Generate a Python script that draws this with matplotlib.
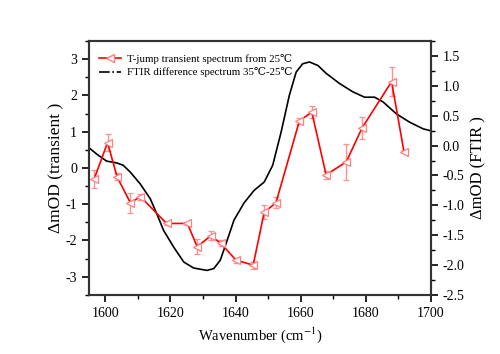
import numpy as np
import matplotlib
matplotlib.use('Agg')
import matplotlib.pyplot as plt
from matplotlib.lines import Line2D
from matplotlib.ticker import MultipleLocator

plt.rcParams['font.family'] = ['Liberation Serif', 'DejaVu Serif']
plt.rcParams['mathtext.fontset'] = 'stix'
plt.rcParams['axes.unicode_minus'] = False

# T-jump transient spectrum (left axis)
tj_x   = [1596.6, 1600.7, 1603.6, 1607.7, 1610.8, 1618.8, 1625.2, 1628.2, 1632.4, 1635.5,
          1640.1, 1645.4, 1648.8, 1652.4, 1659.6, 1663.4, 1667.8, 1674.0, 1678.8, 1687.9, 1691.7]
tj_y   = [-0.30, 0.70, -0.24, -0.96, -0.79, -1.53, -1.53, -2.17, -1.87, -2.08,
          -2.54, -2.68, -1.22, -0.96, 1.30, 1.54, -0.19, 0.17, 1.10, 2.38, 0.45]
tj_err = [0.25, 0.23, 0.10, 0.28, 0.08, 0.05, 0.05, 0.20, 0.12, 0.08,
          0.07, 0.10, 0.20, 0.15, 0.08, 0.17, 0.12, 0.50, 0.30, 0.40, 0.05]

# FTIR difference spectrum (right axis)
ft_x = [1594.2, 1597.3, 1600.4, 1603.5, 1605.5, 1607.6, 1610.7, 1613.8, 1615.8, 1617.9,
        1621.0, 1624.1, 1627.1, 1631.2, 1633.3, 1635.3, 1637.4, 1639.5, 1642.6, 1645.7,
        1648.8, 1651.4, 1654.0, 1656.5, 1658.6, 1660.6, 1662.7, 1665.3, 1667.8, 1671.9,
        1676.0, 1679.6, 1682.7, 1685.3, 1689.4, 1693.5, 1697.6, 1700.5]
ft_y = [0.00, -0.14, -0.26, -0.29, -0.33, -0.44, -0.64, -0.89, -1.14, -1.42,
        -1.70, -1.95, -2.05, -2.09, -2.06, -1.92, -1.59, -1.25, -0.96, -0.75,
        -0.61, -0.33, 0.23, 0.84, 1.23, 1.37, 1.40, 1.34, 1.21, 1.04,
        0.90, 0.81, 0.81, 0.73, 0.53, 0.39, 0.28, 0.24]

fig = plt.figure(figsize=(5, 3.54), dpi=100)
ax = fig.add_axes([0.178, 0.167, 0.684, 0.717])
ax2 = ax.twinx()

ax.errorbar(tj_x, tj_y, yerr=tj_err, color='red', lw=1.2, marker='<', ms=5.5,
            mfc='white', mec='#ff8080', mew=0.9, ecolor='#ff9090', elinewidth=1,
            capsize=2.5, capthick=1, zorder=3)
ax2.plot(ft_x, ft_y, color='black', lw=1.2)

ax.set_zorder(ax2.get_zorder() + 1)
ax.patch.set_visible(False)

ax.set_xlim(1595, 1700)
ax.set_ylim(-3.5, 3.5)
ax2.set_ylim(-2.5, 1.75)

ax.xaxis.set_major_locator(MultipleLocator(20))
ax.xaxis.set_minor_locator(MultipleLocator(10))
ax.yaxis.set_major_locator(MultipleLocator(1))
ax.yaxis.set_minor_locator(MultipleLocator(0.5))
ax2.yaxis.set_major_locator(MultipleLocator(0.5))
ax2.yaxis.set_minor_locator(MultipleLocator(0.25))
ax2.yaxis.set_major_formatter(plt.FuncFormatter(lambda v, p: f'{v:.1f}'))

for a in (ax, ax2):
    a.tick_params(which='major', direction='out', length=5, width=1.2, labelsize=10)
    a.tick_params(which='minor', direction='out', length=3, width=1)
    for s in a.spines.values():
        s.set_linewidth(1.5)
        s.set_color('#333333')

ax.set_xlabel('Wavenumber (cm$^{-1}$)', fontsize=10.5)
ax.set_ylabel('ΔmOD (transient )', fontsize=12.5, labelpad=1)
ax2.set_ylabel('ΔmOD (FTIR )', fontsize=12)

h1 = Line2D([], [], color='red', lw=1.2, marker='<', ms=5.5, mfc='white', mec='#ff8080')
h2 = Line2D([], [], color='black', lw=1.2, ls='-.')
ax.legend([h1, h2], ['T-jump transient spectrum from 25\u2103',
                     'FTIR difference spectrum 35\u2103-25\u2103'],
          loc='upper left', frameon=False, fontsize=7.8, handlelength=2.0,
          handletextpad=0.5, borderaxespad=0.0, labelspacing=0.35,
          bbox_to_anchor=(0.018, 0.968))

fig.savefig('out.png', dpi=100)
